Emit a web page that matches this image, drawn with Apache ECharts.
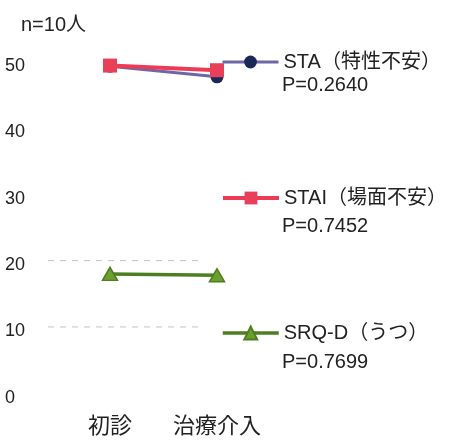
<!DOCTYPE html>
<html>
<head>
<meta charset="utf-8">
<script src="https://cdn.jsdelivr.net/npm/echarts@6/dist/echarts.min.js"></script>
<style>
html,body{margin:0;padding:0;background:#fff;}
#c{width:453px;height:442px;}
</style>
</head>
<body>
<div id="c"></div>
<script>
const categories = ['初診', '治療介入'];
const staValues = [49.3, 47.7];
const staiValues = [49.4, 48.7];
const srqValues = [18.0, 17.8];
const seriesNames = ['STA（特性不安）', 'STAI（場面不安）', 'SRQ-D（うつ）'];
const pValues = ['P=0.2640', 'P=0.7452', 'P=0.7699'];
const yTicks = [0, 10, 20, 30, 40, 50];
const dashedGridValues = [10, 20];

const FONT = "'Liberation Sans','Noto Sans CJK JP',sans-serif";
const chart = echarts.init(document.getElementById('c'));

const legendTops = [52, 188, 323];
const pTops = [75, 216, 352];
const lineWidths = [3, 4, 3.5];

const option = {
  backgroundColor: '#fff',
  animation: false,
  title: {
    text: 'n=10人', left: 16, top: 10,
    textStyle: {fontFamily: FONT, fontSize: 20, fontWeight: 'normal', color: '#222'}
  },
  grid: {left: 56.5, right: 182.5, top: 61.6, bottom: 48.7},
  xAxis: {
    type: 'category', data: categories, boundaryGap: true,
    axisLine: {show: false}, axisTick: {show: false},
    axisLabel: {fontFamily: FONT, fontSize: 22, color: '#222', margin: 23, interval: 0}
  },
  yAxis: {
    type: 'value', min: 0, max: 50, interval: 10,
    axisLine: {show: false}, axisTick: {show: false},
    splitLine: {show: false},
    axisLabel: {fontFamily: FONT, fontSize: 18, color: '#222', align: 'left', margin: 51.5,
      verticalAlign: 'top', lineHeight: 9}
  },
  legend: seriesNames.map((n, i) => ({
    data: [n], left: 221, top: legendTops[i], padding: 0,
    itemWidth: 56, itemHeight: 16, itemGap: 0,
    lineStyle: {width: lineWidths[i]},
    textStyle: {fontFamily: FONT, fontSize: 20, color: '#222'}
  })),
  series: [
    {
      name: seriesNames[0], type: 'line', data: staValues,
      symbol: 'circle', symbolSize: 13,
      lineStyle: {color: '#6A68A8', width: lineWidths[0]},
      itemStyle: {color: '#1B2858'}, z: 2
    },
    {
      name: seriesNames[1], type: 'line', data: staiValues,
      symbol: 'rect', symbolSize: 14,
      lineStyle: {color: '#EE3B55', width: lineWidths[1]},
      itemStyle: {color: '#E9405A'}, z: 3
    },
    {
      name: seriesNames[2], type: 'line', data: srqValues,
      symbol: 'triangle', symbolSize: [15, 13],
      lineStyle: {color: '#4B7F1F', width: lineWidths[2]},
      itemStyle: {color: '#6E9E30', borderColor: '#4B7F1F', borderWidth: 1.5}, z: 2
    }
  ]
};
chart.setOption(option);

const graphics = [];
dashedGridValues.forEach(v => {
  const y = chart.convertToPixel({yAxisIndex: 0}, v);
  graphics.push({
    type: 'line', z: 0, silent: true,
    shape: {x1: 48, y1: y, x2: 204, y2: y},
    style: {stroke: '#c4c4c4', lineWidth: 1, lineDash: [6, 6]}
  });
});
pValues.forEach((p, i) => {
  graphics.push({
    type: 'text', left: 282, top: pTops[i],
    style: {text: p, fontFamily: FONT, fontSize: 20, fill: '#222'}
  });
});
chart.setOption({graphic: graphics});
</script>
</body>
</html>
